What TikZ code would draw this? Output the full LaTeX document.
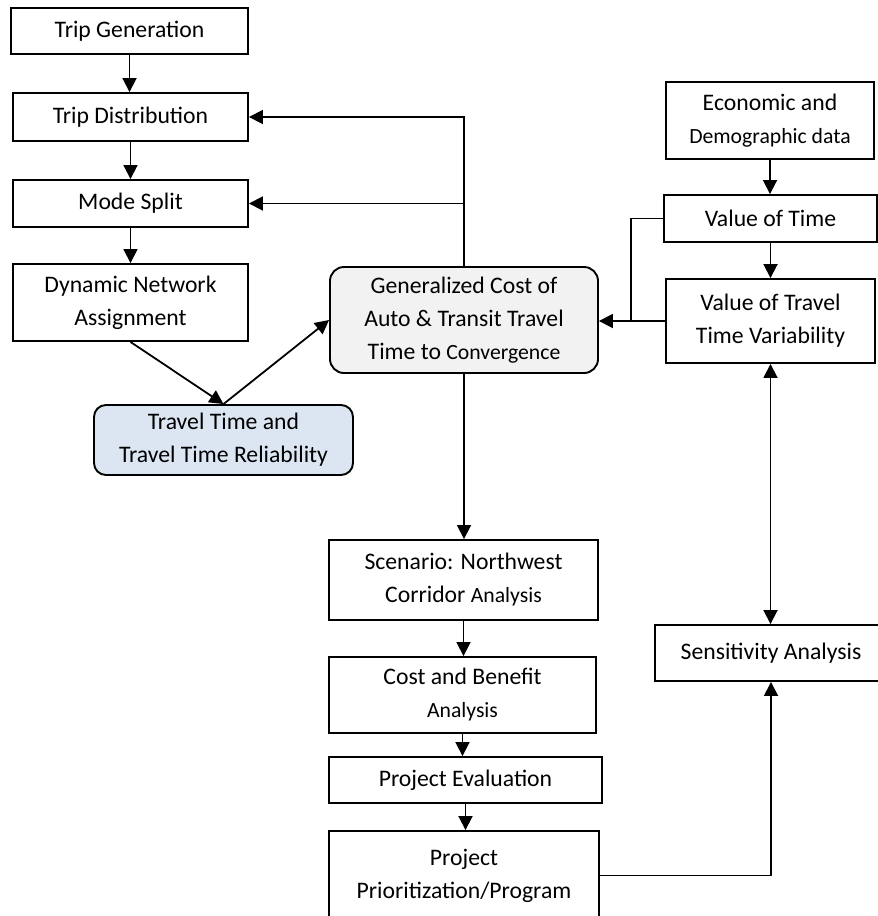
\documentclass[tikz,border=0pt]{standalone}
\usepackage{fontspec}
\setmainfont{Carlito}
\usetikzlibrary{arrows.meta}
\newcommand{\bigf}{\fontsize{23.7}{33}\selectfont}
\newcommand{\smf}{\fontsize{21.7}{33}\selectfont}
\definecolor{gcfill}{RGB}{242,242,242}
\definecolor{ttrfill}{RGB}{220,230,242}
\tikzset{
  box/.style={draw=black, line width=1.9pt, rectangle, inner sep=0pt, align=center, font=\bigf, text=black},
  rbox/.style={box, rounded corners=14pt},
  conn/.style={line width=1.8pt, draw=black},
  arr/.style={conn, -{Triangle[length=14pt,width=14pt]}},
  darr/.style={conn, {Triangle[length=14pt,width=14pt]}-{Triangle[length=14pt,width=14pt]}}
}
\begin{document}
\begin{tikzpicture}[x=1pt,y=-1pt]
\useasboundingbox (0,0) rectangle (878,916);
\clip (0,0) rectangle (878,916);
\fill[white] (0,0) rectangle (878,916);
% left column
\node[box, minimum width=237pt, minimum height=46pt] (tg) at (129.5,31) {Trip Generation};
\node[box, minimum width=235pt, minimum height=48pt] (td) at (130.5,117) {Trip Distribution};
\node[box, minimum width=235pt, minimum height=47pt] (ms) at (130.5,203.5) {Mode Split};
\node[box, minimum width=235pt, minimum height=77pt] (dna) at (130.5,302.5) {Dynamic Network\\Assignment};
\node[rbox, fill=ttrfill, rounded corners=12pt, minimum width=259pt, minimum height=70pt] (ttr) at (223.5,440) {Travel Time and\\Travel Time Reliability};
% center
\node[rbox, fill=gcfill, minimum width=268pt, minimum height=106pt] (gc) at (464,320) {Generalized Cost of\\Auto \& Transit Travel\\Time to {\smf Convergence}};
\node[box, minimum width=269pt, minimum height=80pt] (scn) at (463.5,580) {Scenario: Northwest\\Corridor {\smf Analysis}};
\node[box, minimum width=267pt, minimum height=76pt] (cb) at (462.5,695) {Cost and Benefit\\{\smf Analysis}};
\node[box, minimum width=273pt, minimum height=46pt] (pe) at (465.5,780) {Project Evaluation};
\node[box, minimum width=270pt, minimum height=89pt] (pp) at (464,875.5) {Project\\Prioritization/Program};
% right column
\node[box, minimum width=208pt, minimum height=77pt] (eco) at (770,120.5) {Economic and\\{\smf Demographic data}};
\node[box, minimum width=213pt, minimum height=47pt] (vot) at (770.5,218.5) {Value of Time};
\node[box, minimum width=209pt, minimum height=84pt] (vttv) at (770.5,321) {Value of Travel\\Time Variability};
\node[box, minimum width=232pt, minimum height=56pt] (sen) at (771,653) {Sensitivity Analysis};
% junction coordinates
\coordinate (j1) at (gc.north |- ms.east);
\coordinate (j2) at (631,321);
% connectors
\draw[arr] (tg.south) -- (tg.south |- td.north);
\draw[arr] (td.south) -- (td.south |- ms.north);
\draw[arr] (ms.south) -- (ms.south |- dna.north);
\draw[arr] (dna.south) -- (ttr.north);
\draw[arr] (ttr.north) -- (gc.west);
\draw[arr] (gc.north) |- (td.east);
\draw[arr] (j1) -- (ms.east);
\draw[conn] (vot.west) -| (j2);
\draw[arr] (vttv.west) -- (vttv.west -| gc.east);
\draw[arr] (eco.south) -- (eco.south |- vot.north);
\draw[arr] (vot.south) -- (vot.south |- vttv.north);
\draw[darr] (vttv.south) -- (vttv.south |- sen.north);
\draw[arr] (gc.south) -- (gc.south |- scn.north);
\draw[arr] (scn.south) -- (scn.south |- cb.north);
\draw[arr] (cb.south) -- (cb.south |- pe.north);
\draw[arr] (pe.south) -- (pe.south |- pp.north);
\draw[arr] (pp.east) -| (sen.south);
\end{tikzpicture}
\end{document}
